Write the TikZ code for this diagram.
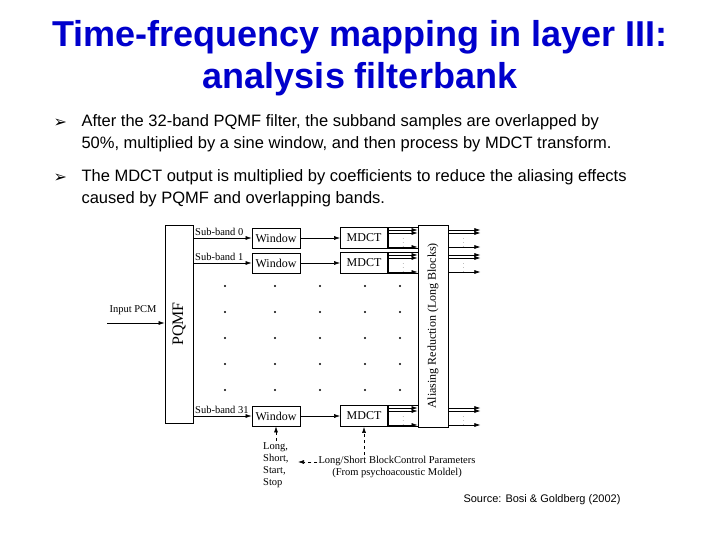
\documentclass[tikz,border=0pt]{standalone}
\usepackage{fontspec}
\setmainfont{Liberation Sans}
\newfontfamily\serifd{Liberation Serif}
\newfontfamily\djv{DejaVu Sans}
\usetikzlibrary{arrows.meta}
\definecolor{tblue}{RGB}{0,0,204}
\begin{document}
\begin{tikzpicture}[x=1pt,y=-1pt,
  bx/.style={draw,line width=0.8pt,fill=white,inner sep=0pt,font=\serifd\fontsize{12}{13}\selectfont},
  ar/.style={-{Latex[length=6pt,width=4pt]},line width=0.6pt},
  lbl/.style={font=\serifd\fontsize{10.5}{12}\selectfont,inner sep=1pt},
  dt/.style={circle,fill=black,inner sep=0pt,minimum size=2.2pt}]
\useasboundingbox (0,0) rectangle (720,540);
\node (t) at (360,58) [align=center,text=tblue,font=\bfseries\fontsize{36}{42}\selectfont] {Time-frequency mapping in layer III:\\analysis filterbank};
\node (b1) at (50,123) [anchor=west,font=\djv\fontsize{16}{16}\selectfont] {➢};
\node (p1) at (78,133) [anchor=west,align=left,font=\fontsize{16.5}{22}\selectfont] {After the 32-band PQMF filter, the subband samples are overlapped by\\50\%, multiplied by a sine window, and then process by MDCT transform.};
\node (b2) at (50,178) [anchor=west,font=\djv\fontsize{16}{16}\selectfont] {➢};
\node (p2) at (78,188) [anchor=west,align=left,font=\fontsize{16.5}{22}\selectfont] {The MDCT output is multiplied by coefficients to reduce the aliasing effects\\caused by PQMF and overlapping bands.};
% PQMF
\node (pq) [bx,minimum width=28,minimum height=198] at (179,324) {\rotatebox{90}{\fontsize{16}{16}\selectfont PQMF}};
\node (in) [lbl,anchor=south] at (133,316) {Input PCM};
\coordinate (inS) at (107,323);
\draw[ar] (inS) -- (pq.west |- inS);
% aliasing
\node (al) [bx,minimum width=30,minimum height=202] at (433,326) {\rotatebox{90}{Aliasing Reduction (Long Blocks)}};
% rows
\foreach \n/\y/\lab in {0/238/Sub-band 0,1/263/Sub-band 1,31/416/Sub-band 31}{
  \node (w\n) [bx,minimum width=48,minimum height=20] at (276,\y) {Window};
  \node (m\n) [bx,minimum width=47,minimum height=21] at (364,\y) {MDCT};
  \node (e\n) [draw,line width=0.6pt,minimum width=30,minimum height=21,inner sep=0pt,anchor=west] at (m\n.east) {};
  \node (s\n) [lbl,anchor=south west] at (194,\y-1) {\lab};
  \node (o\n) [minimum width=30,minimum height=21,inner sep=0pt,anchor=west] at (al.east |- m\n) {};
  \node (v\n) [font=\tiny,inner sep=0pt] at ([yshift=-2]e\n.center) {$\vdots$};
  \node (u\n) [font=\tiny,inner sep=0pt] at ([yshift=-2]o\n.center) {$\vdots$};
  \draw[ar] (pq.east |- w\n.west) -- (w\n.west);
  \draw[ar] (w\n) -- (m\n);
  \foreach \d in {-8,-5,9}{
    \coordinate (a\n\d) at (388,\y+\d);
    \draw[ar] (a\n\d) -- (al.west |- a\n\d);
    \draw[ar] (al.east |- a\n\d) -- ++(32,0);
  }
}
% dots grid
\foreach \xx in {225,275,320,365,400}{\foreach \yy in {286,312,338,364,390}{\node[dt] at (\xx,\yy) {};}}
% control
\node (ls) [lbl,align=left,anchor=north west] at (262,441) {Long,\\Short,\\Start,\\Stop};
\node (cp) [lbl,align=center] at (397,467) {Long/Short BlockControl Parameters\\(From psychoacoustic Moldel)};
\draw[ar,dashed] (ls.north -| w31) -- (w31.south);
\draw[ar,dashed] (cp.north -| m31) -- (m31.south);
\coordinate (cpa) at (312,462);
\draw[ar,dashed] (cp.west |- cpa) -- (298,462);
\node (src) at (542,500) [font=\fontsize{11}{12}\selectfont] {Source: Bosi \& Goldberg (2002)};
\end{tikzpicture}
\end{document}
